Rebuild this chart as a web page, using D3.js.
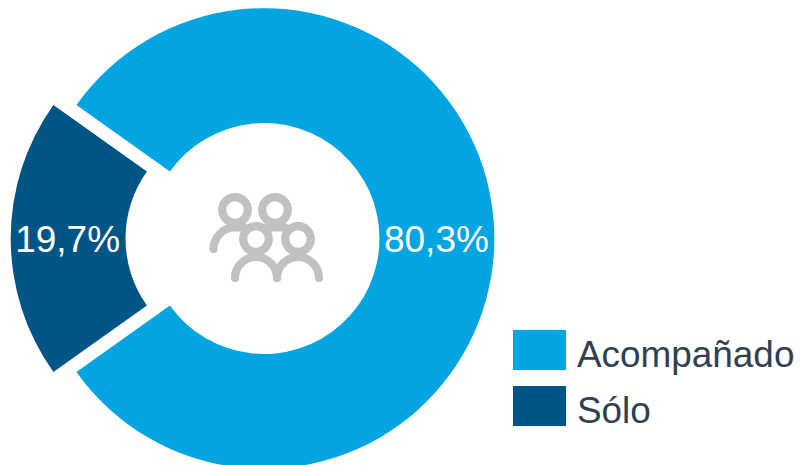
<!DOCTYPE html>
<html lang="es">
<head>
<meta charset="utf-8">
<script src="https://cdn.jsdelivr.net/npm/d3@7/dist/d3.min.js"></script>
<style>
html,body{margin:0;padding:0;background:#fff;overflow:hidden}
svg{display:block}
text{font-family:"Liberation Sans",Arial,sans-serif}
</style>
</head>
<body>
<svg id="chart" width="800" height="465"></svg>
<script>
// Companion share, in percent
const categories = ["Acompañado", "Sólo"];
const shares = [80.3, 19.7];
const shareLabels = ["80,3%", "19,7%"];
const sliceColors = ["#03a4e2", "#005587"];
const explodeOffsets = [0, 23];

const svg = d3.select("#chart");
const cx = 264, cy = 238.5, outerR = 230.3, innerR = 115.5;

const color = d3.scaleOrdinal().domain(categories).range(sliceColors);

// The first slice is centred on 3 o'clock
const firstSweep = 2 * Math.PI * shares[0] / d3.sum(shares);
const pie = d3.pie().sort(null)
  .startAngle(Math.PI / 2 - firstSweep / 2)
  .endAngle(Math.PI / 2 - firstSweep / 2 + 2 * Math.PI);
const arc = d3.arc().innerRadius(innerR).outerRadius(outerR);

const arcs = pie(shares);

const slices = svg.selectAll("g.slice").data(arcs).join("g")
  .attr("class", "slice")
  .attr("transform", (d, i) => {
    const mid = (d.startAngle + d.endAngle) / 2 - Math.PI / 2;
    return `translate(${cx + explodeOffsets[i] * Math.cos(mid)},${cy + explodeOffsets[i] * Math.sin(mid)})`;
  });

slices.append("path")
  .attr("d", arc)
  .attr("fill", (d, i) => color(categories[i]));

slices.append("text")
  .attr("transform", d => {
    const [x, y] = arc.centroid(d);
    return `translate(${x - 0.5},${y + 13})`;
  })
  .attr("text-anchor", "middle")
  .attr("font-size", 37)
  .attr("fill", "#fff")
  .text((d, i) => shareLabels[i]);

// Group-of-people pictogram in the hole
const icon = svg.append("g")
  .attr("fill", "none")
  .attr("stroke", "#c1c1c1")
  .attr("stroke-width", 8.2)
  .attr("stroke-linecap", "round");

const heads = [[235, 210], [275, 210], [256, 239], [298, 239]];
icon.selectAll("circle").data(heads).join("circle")
  .attr("cx", d => d[0])
  .attr("cy", d => d[1])
  .attr("r", 12.8);

const bodies = [
  "M213.5,249 A21.5,21.5 0 0 1 235,227.5 L244,227.5",
  "M266,227.5 L285,227.5",
  "M235,278 A21,21 0 0 1 277,278",
  "M277,278 A21,21 0 0 1 319,278"
];
icon.selectAll("path").data(bodies).join("path").attr("d", d => d);

// Legend
const legendSwatchY = d3.scalePoint().domain(categories).range([330, 386]);
const legend = svg.selectAll("g.legend").data(categories).join("g")
  .attr("class", "legend")
  .attr("transform", d => `translate(513,${legendSwatchY(d)})`);

legend.append("rect")
  .attr("width", 53)
  .attr("height", 40)
  .attr("fill", d => color(d));

legend.append("text")
  .attr("x", 64)
  .attr("y", 36.5)
  .attr("font-size", 36.9)
  .attr("fill", "#2f4150")
  .text(d => d);
</script>
</body>
</html>
